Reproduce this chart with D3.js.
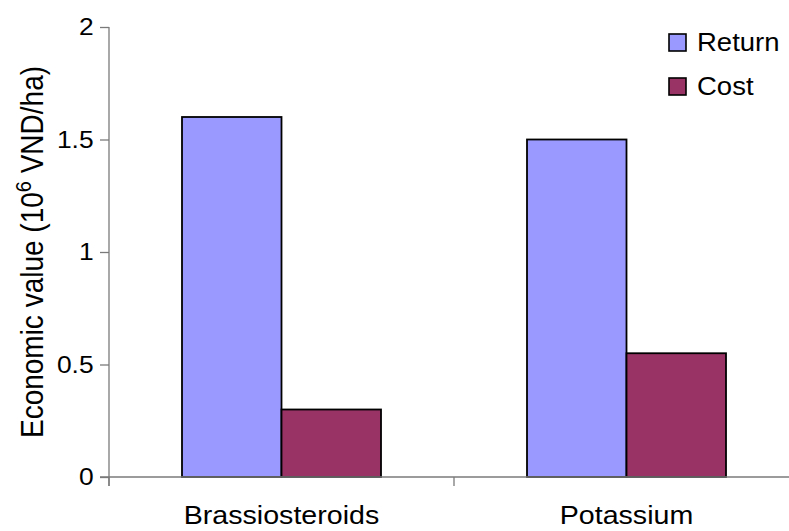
<!DOCTYPE html>
<html>
<head>
<meta charset="utf-8">
<script src="https://cdn.jsdelivr.net/npm/d3@7/dist/d3.min.js"></script>
<style>
  html, body { margin: 0; padding: 0; background: #fff; }
  svg { display: block; font-family: Arial, "Liberation Sans", sans-serif; }
</style>
</head>
<body>
<svg id="chart" width="789" height="531"></svg>
<script>
// Economic value per treatment (10^6 VND/ha)
const categories = ["Brassiosteroids", "Potassium"];
const seriesNames = ["Return", "Cost"];
const returnValues = [1.6, 1.5];
const costValues = [0.3, 0.55];
const yTicks = [0, 0.5, 1, 1.5, 2];
const colors = ["#9999FF", "#993366"];

const FONT = "Arial, 'Liberation Sans', sans-serif";
const stretch = 1.1;           // wide text face
const axisColor = "#7a7a7a";
const tickLen = 9;

const svg = d3.select("#chart");
const plot = { left: 109, right: 799, top: 27, bottom: 477 };

const x = d3.scaleBand().domain(categories).range([plot.left, plot.right]);
const y = d3.scaleLinear().domain([0, 2]).range([plot.bottom, plot.top]);
// pair of bars sits in the middle of each category band
const groupPad = 73;
const xi = d3.scaleBand().domain(seriesNames).range([groupPad, x.bandwidth() - groupPad]);

const rows = categories.map((c, i) => ({ cat: c, values: [returnValues[i], costValues[i]] }));

// bars
const bars = svg.append("g");
rows.forEach(r => {
  r.values.forEach((v, j) => {
    bars.append("rect")
      .attr("x", x(r.cat) + xi(seriesNames[j]))
      .attr("y", y(v))
      .attr("width", xi.bandwidth())
      .attr("height", y(0) - y(v))
      .attr("fill", colors[j])
      .attr("stroke", "#000")
      .attr("stroke-width", 1.8);
  });
});

// y axis
const yAxis = svg.append("g")
  .attr("transform", `translate(${plot.left},0)`)
  .call(d3.axisLeft(y).tickValues(yTicks).tickSize(tickLen).tickSizeOuter(0).tickPadding(5)
    .tickFormat(d3.format("")));
yAxis.select(".domain").remove();
yAxis.selectAll(".tick line").attr("stroke", axisColor).attr("stroke-width", 1.3);
yAxis.selectAll(".tick text")
  .attr("font-size", 24).attr("fill", "#000").attr("font-family", FONT)
  .attr("transform", `scale(${stretch},1)`);
svg.append("line")
  .attr("x1", plot.left).attr("x2", plot.left)
  .attr("y1", y(2)).attr("y2", y(0) + tickLen)
  .attr("stroke", axisColor).attr("stroke-width", 1.3);

// x axis
svg.append("line")
  .attr("x1", plot.left - tickLen).attr("x2", plot.right)
  .attr("y1", y(0)).attr("y2", y(0))
  .attr("stroke", axisColor).attr("stroke-width", 1.5);
const boundaries = categories.map(c => x(c)).concat([plot.right]);
svg.selectAll(".xtick").data(boundaries).enter().append("line")
  .attr("x1", d => d).attr("x2", d => d)
  .attr("y1", y(0)).attr("y2", y(0) + tickLen)
  .attr("stroke", axisColor).attr("stroke-width", 1.3);
svg.selectAll(".xlabel").data(categories).enter().append("text")
  .attr("transform", d => `translate(${x(d) + x.bandwidth() / 2},524) scale(${stretch},1)`)
  .attr("text-anchor", "middle")
  .attr("font-size", 26)
  .attr("fill", "#000")
  .text(d => d);

// y axis title
const title = svg.append("text")
  .attr("transform", `translate(43,${(y(0) + y(2)) / 2}) scale(${stretch},1) rotate(-90)`)
  .attr("text-anchor", "middle")
  .attr("font-size", 28)
  .attr("fill", "#000");
title.append("tspan").text("Economic value (10");
title.append("tspan").text("6").attr("font-size", 20).attr("dy", -11);
title.append("tspan").text(" VND/ha)").attr("dy", 11);

// legend
const legend = svg.append("g");
seriesNames.forEach((s, i) => {
  const ly = 34 + i * 44;
  legend.append("rect")
    .attr("x", 669).attr("y", ly)
    .attr("width", 17).attr("height", 17)
    .attr("fill", colors[i]).attr("stroke", "#000").attr("stroke-width", 1.6);
  legend.append("text")
    .attr("transform", `translate(697,${ly + 17}) scale(${stretch},1)`)
    .attr("font-size", 25).attr("fill", "#000")
    .text(s);
});
</script>
</body>
</html>
